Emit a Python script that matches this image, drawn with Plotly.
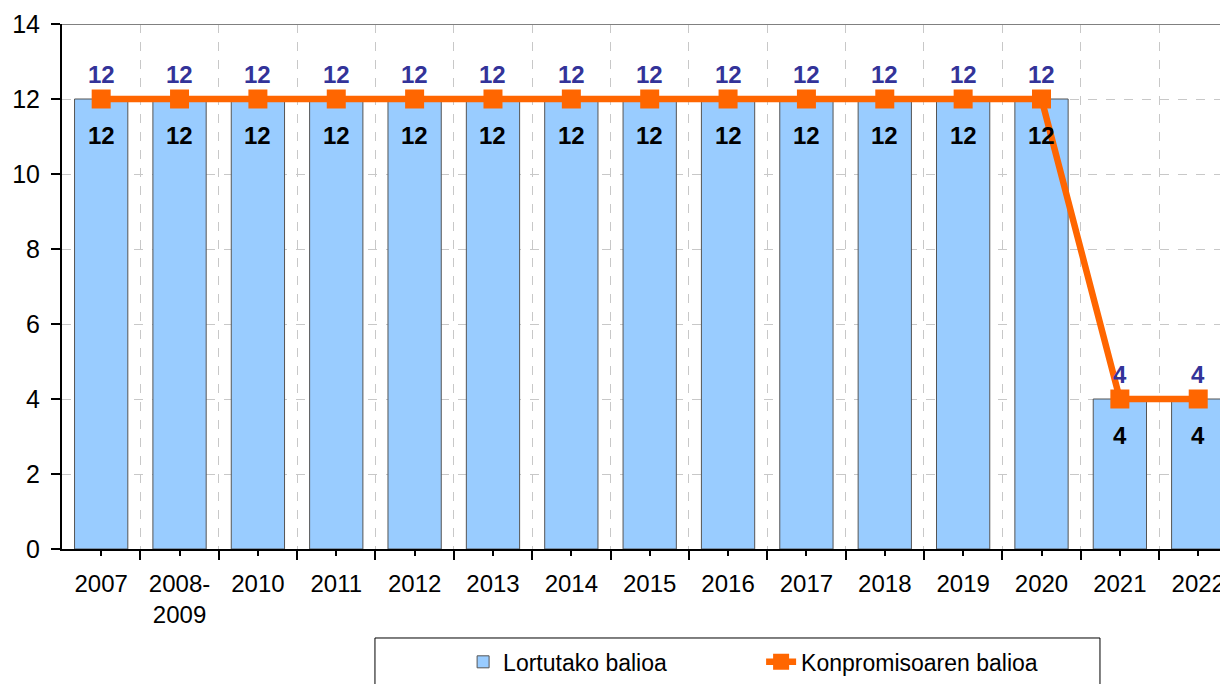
import plotly.graph_objects as go

categories = ["2007", "2008-<br>2009", "2010", "2011", "2012", "2013", "2014", "2015",
              "2016", "2017", "2018", "2019", "2020", "2021", "2022"]
achieved = [12, 12, 12, 12, 12, 12, 12, 12, 12, 12, 12, 12, 12, 4, 4]
commitment = [12, 12, 12, 12, 12, 12, 12, 12, 12, 12, 12, 12, 12, 4, 4]
y_ticks = [0, 2, 4, 6, 8, 10, 12, 14]

xpos = list(range(len(categories)))
FONT = "Liberation Sans, Arial, sans-serif"

fig = go.Figure()
fig.add_trace(go.Bar(
    x=xpos, y=achieved, name="Lortutako balioa", width=0.68,
    marker=dict(color="#99CCFF", line=dict(color="#555555", width=1)),
    hoverinfo="y",
))
fig.add_trace(go.Scatter(
    x=xpos, y=commitment, name="Konpromisoaren balioa", mode="lines+markers",
    line=dict(color="#FF6600", width=6.5),
    marker=dict(symbol="square", size=19, color="#FF6600"),
    hoverinfo="y",
))

annotations = []
for xi, v in zip(xpos, commitment):
    annotations.append(dict(x=xi, y=v, xref="x", yref="y", text=f"<b>{v}</b>", showarrow=False,
                            yshift=25, font=dict(family=FONT, size=24, color="#333399")))
for xi, v in zip(xpos, achieved):
    annotations.append(dict(x=xi, y=v, xref="x", yref="y", text=f"<b>{v}</b>", showarrow=False,
                            yshift=-36, font=dict(family=FONT, size=24, color="#000000")))

boundaries = [i + 0.5 for i in range(len(categories) - 1)]

fig.update_layout(
    width=1220, height=676,
    margin=dict(l=54, r=0, t=16, b=135, autoexpand=False),
    paper_bgcolor="white", plot_bgcolor="white",
    font=dict(family=FONT, size=22, color="#000000"),
    showlegend=True,
    legend=dict(orientation="h", x=0.344, xanchor="left", y=-0.215, yanchor="middle",
                font=dict(family=FONT, size=23), entrywidth=253, bgcolor="rgba(0,0,0,0)",
                traceorder="normal"),
    annotations=annotations,
    shapes=[
        dict(type="line", xref="paper", yref="y", x0=0, x1=1, y0=14, y1=14,
             line=dict(color="#808080", width=2)),
        dict(type="rect", xref="paper", yref="paper", x0=0.2684, x1=0.8902, y0=-0.1695, y1=-0.35,
             line=dict(color="#000000", width=1), fillcolor="rgba(0,0,0,0)"),
    ],
)
fig.update_xaxes(
    range=[-0.5, 14.38], tickmode="array", tickvals=xpos, ticktext=categories,
    ticks="outside", ticklen=5, tickwidth=1.5, tickcolor="#000000",
    showgrid=False, showline=True, linecolor="#000000", linewidth=2,
    tickfont=dict(family=FONT, size=24), ticklabelstandoff=7,
    minor=dict(tickmode="array", tickvals=boundaries, ticks="outside", ticklen=9,
               tickwidth=1.5, tickcolor="#000000", showgrid=True, gridcolor="#C8C8C8",
               griddash="dash", gridwidth=1),
    zeroline=False, automargin=False,
)
fig.update_yaxes(
    range=[0, 14], tickmode="array", tickvals=y_ticks,
    ticks="outside", ticklen=9, tickwidth=1.5, tickcolor="#000000",
    showgrid=True, gridcolor="#C8C8C8", griddash="dash", gridwidth=1,
    showline=True, linecolor="#000000", linewidth=2,
    tickfont=dict(family=FONT, size=25), ticklabelstandoff=6,
    zeroline=False, automargin=False,
)

fig.write_html("out.html")
